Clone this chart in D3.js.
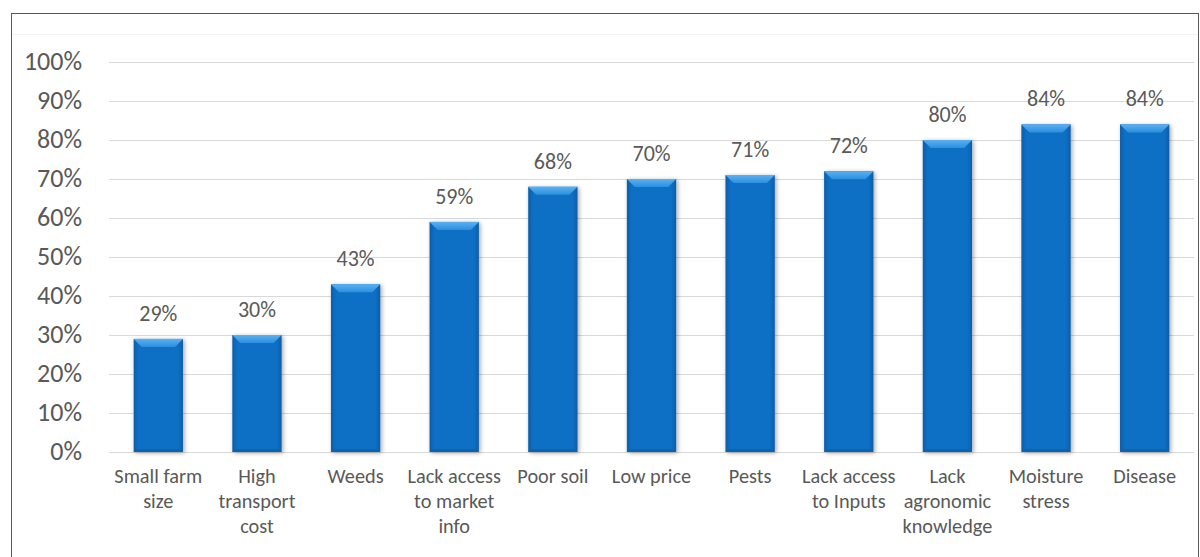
<!DOCTYPE html>
<html>
<head>
<meta charset="utf-8">
<script src="https://cdn.jsdelivr.net/npm/d3@7"></script>
<style>
  html, body { margin: 0; padding: 0; background: #fff; }
  svg { display: block; }
  text { font-family: Carlito, "Open Sans", Lato, sans-serif; }
</style>
</head>
<body>
<svg id="chart" width="1200" height="557"></svg>
<script>
// Constraint categories and share of respondents reporting each
const categories = [
  ["Small farm", "size"],
  ["High", "transport", "cost"],
  ["Weeds"],
  ["Lack access", "to market", "info"],
  ["Poor soil"],
  ["Low price"],
  ["Pests"],
  ["Lack access", "to Inputs"],
  ["Lack", "agronomic", "knowledge"],
  ["Moisture", "stress"],
  ["Disease"]
];
const values = [0.29, 0.30, 0.43, 0.59, 0.68, 0.70, 0.71, 0.72, 0.80, 0.84, 0.84];
const yTicks = [0, 0.1, 0.2, 0.3, 0.4, 0.5, 0.6, 0.7, 0.8, 0.9, 1.0];

const svg = d3.select("#chart");
const keys = categories.map((c, i) => i);

const x = d3.scaleBand().domain(keys).range([109, 1194]).paddingInner(0.5).paddingOuter(0.25);
const y = d3.scaleLinear().domain([0, 1]).range([452, 62]);

// outer frame
svg.append("rect")
  .attr("x", 11.5).attr("y", 13.5).attr("width", 1187).attr("height", 560)
  .attr("fill", "none").attr("stroke", "#595959").attr("stroke-width", 1);
svg.append("line")
  .attr("x1", 12).attr("x2", 1198).attr("y1", 34.5).attr("y2", 34.5)
  .attr("stroke", "#f3f3f3").attr("stroke-width", 1);

// gradients and shadow for the bevelled bars
const defs = svg.append("defs");
const bodyGrad = defs.append("linearGradient").attr("id", "barBody").attr("x1", 0).attr("x2", 1).attr("y1", 0).attr("y2", 0);
bodyGrad.append("stop").attr("offset", "0").attr("stop-color", "#0a5ea8");
bodyGrad.append("stop").attr("offset", "0.1").attr("stop-color", "#0b6fc4");
bodyGrad.append("stop").attr("offset", "0.9").attr("stop-color", "#0b6fc4");
bodyGrad.append("stop").attr("offset", "1").attr("stop-color", "#0a5ea8");
const topGrad = defs.append("linearGradient").attr("id", "barTop").attr("x1", 0).attr("x2", 0).attr("y1", 0).attr("y2", 1);
topGrad.append("stop").attr("offset", "0").attr("stop-color", "#5cb0f0");
topGrad.append("stop").attr("offset", "1").attr("stop-color", "#2b8fe0");
const shadow = defs.append("filter").attr("id", "shadow").attr("x", "-30%").attr("y", "-10%").attr("width", "160%").attr("height", "120%");
shadow.append("feDropShadow").attr("dx", 1.5).attr("dy", 1).attr("stdDeviation", 2.2)
  .attr("flood-color", "#000").attr("flood-opacity", 0.35);

// gridlines
svg.append("g")
  .selectAll("line")
  .data(yTicks)
  .join("line")
  .attr("x1", 109).attr("x2", 1194)
  .attr("y1", d => Math.round(y(d)) + 0.5).attr("y2", d => Math.round(y(d)) + 0.5)
  .attr("stroke", "#d9d9d9").attr("stroke-width", 1.2);

// y axis labels
const yAxis = d3.axisLeft(y).tickValues(yTicks).tickFormat(d3.format(".0%")).tickSize(0).tickPadding(0);
const yg = svg.append("g").attr("transform", "translate(82,0)").call(yAxis);
yg.select(".domain").remove();
yg.selectAll("text").attr("fill", "#595959").attr("font-size", 26).attr("dy", "0.3em");

// bars
const bars = svg.append("g").selectAll("g").data(values).join("g");
bars.append("rect")
  .attr("x", (d, i) => x(i)).attr("width", x.bandwidth())
  .attr("y", d => y(d)).attr("height", d => y(0) - y(d))
  .attr("fill", "url(#barBody)")
  .attr("filter", "url(#shadow)");
// bevelled top face
const bev = 8;
bars.append("path")
  .attr("d", (d, i) => {
    const x0 = x(i), x1 = x(i) + x.bandwidth(), yt = y(d);
    return `M${x0},${yt}L${x1},${yt}L${x1 - bev},${yt + bev}L${x0 + bev},${yt + bev}Z`;
  })
  .attr("fill", "url(#barTop)");
// bevelled bottom edge
bars.append("path")
  .attr("d", (d, i) => {
    const x0 = x(i), x1 = x(i) + x.bandwidth(), yb = y(0);
    return `M${x0},${yb}L${x1},${yb}L${x1 - 3},${yb - 3}L${x0 + 3},${yb - 3}Z`;
  })
  .attr("fill", "#0a64b0");

// value labels
svg.append("g").selectAll("text").data(values).join("text")
  .attr("x", (d, i) => x(i) + x.bandwidth() / 2)
  .attr("y", d => y(d) - 18)
  .attr("text-anchor", "middle")
  .attr("fill", "#595959")
  .attr("font-size", 22)
  .text(d => d3.format(".0%")(d));

// category labels
const catG = svg.append("g").selectAll("text").data(categories).join("text")
  .attr("x", (d, i) => x(i) + x.bandwidth() / 2)
  .attr("y", 482.5)
  .attr("text-anchor", "middle")
  .attr("fill", "#595959")
  .attr("font-size", 20.3);
catG.selectAll("tspan").data(d => d).join("tspan")
  .attr("x", function () { return d3.select(this.parentNode).attr("x"); })
  .attr("dy", (d, j) => j === 0 ? 0 : 25.3)
  .text(d => d);
</script>
</body>
</html>
